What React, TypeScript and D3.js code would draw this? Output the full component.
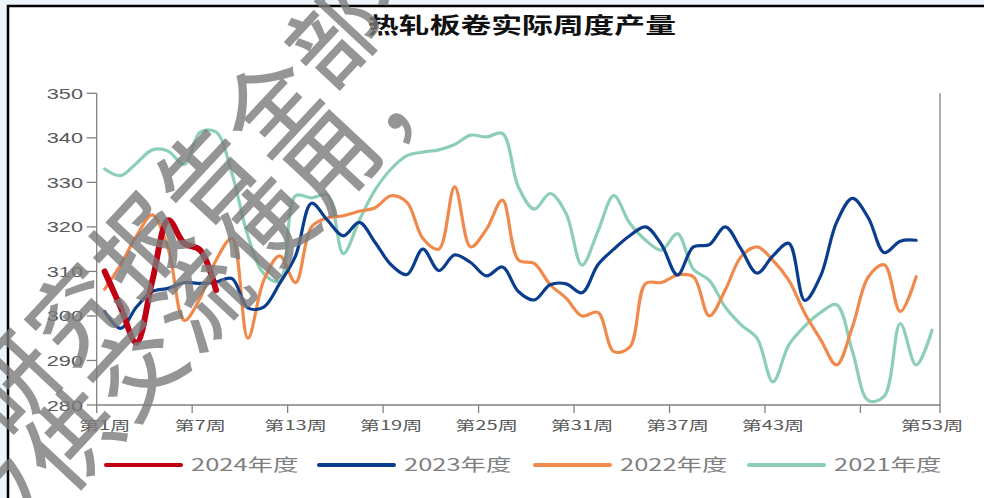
import React from 'react';
import * as d3 from 'd3';

// Weekly hot-rolled coil output (10k tonnes), by year
const weeks = d3.range(1, 54);
const output2024 = [310, 302, 294, 308, 321.5, 316.3, 314.8, 305.8];
const output2023 = [
  301, 297.2, 302, 305.5, 306.2, 307.5, 307.3, 307.6, 308.4, 301.8,
  302, 307.3, 313.5, 325.3, 321.5, 318, 321, 316.5, 311.5, 309.3,
  315, 310.2, 313.7, 312, 309, 311, 305.5, 303.6, 307, 307.2,
  305.2, 311.5, 315, 318, 320, 316, 309.2, 315.5, 316, 320,
  315, 309.6, 313.5, 316.3, 303.5, 309, 321, 326.4, 322, 314.2,
  316.8, 317,
];
const output2022 = [
  306, 311.5, 318, 322.7, 315, 299, 304, 312.5, 317.4, 295,
  308, 313.5, 307.5, 320, 322, 322.5, 323.5, 324.3, 327, 325.5,
  317.4, 315, 329, 315.5, 319.5, 326, 312.6, 311.8, 307, 304,
  300, 300.8, 292, 293, 307.3, 307.5, 309.2, 308.8, 300, 305.8,
  313.3, 315.5, 312.5, 308, 300.6, 294.7, 289, 297.6, 308.8, 311.5,
  301, 308.8,
];
const output2021 = [
  333, 331.5, 334.3, 337.3, 337, 334, 341.3, 341.3, 332, 318,
  309.5, 307.8, 327, 326.5, 327.2, 314, 321.5, 328.3, 333, 336,
  336.8, 337.3, 338.5, 340.6, 340.2, 341, 329, 324, 327.5, 323,
  311.4, 319, 327, 320.8, 317, 314.8, 318.5, 310.5, 308, 302,
  298, 295, 285.2, 293.5, 297.7, 300.8, 302.5, 292, 281, 282,
  298.3, 289, 296.8,
];

const seriesNames = ['2024年度', '2023年度', '2022年度', '2021年度'];
const seriesColors = ['#c00012', '#0b3d8e', '#f08a4c', '#8dcfb6'];
const seriesWidths = [6, 3.2, 3.2, 3.2];
const seriesValues = [output2024, output2023, output2022, output2021];

const yTicks = [280, 290, 300, 310, 320, 330, 340, 350];
const xLabelWeeks = [1, 7, 13, 19, 25, 31, 37, 43, 53];
const xTickBounds = [0.5, 6.5, 12.5, 18.5, 24.5, 30.5, 36.5, 42.5, 48.5, 53.5];

const title = '热轧板卷实际周度产量';
const watermarkRows = ['研究报告全部不', '仅供交流使用，'];

const W = 984;
const H = 498;
const plot = { left: 96.7, right: 940, top: 93.3, bottom: 405 };

const x = d3.scaleLinear().domain([0.5, 53.5]).range([plot.left, plot.right]);
const y = d3.scaleLinear().domain([280, 350]).range([plot.bottom, plot.top]);

const lineGen = d3
  .line<number>()
  .x((_, i) => x(weeks[i]))
  .y((d) => y(d))
  .curve(d3.curveCatmullRom.alpha(0.5));

const sans = '"Liberation Sans", Arial, sans-serif';
const cjk = '"Noto Sans CJK SC", "Liberation Sans", sans-serif';

export default function App() {
  const drawOrder = [3, 2, 1, 0];
  const legendX = [106, 319, 535, 749];

  // watermark glyph layout along a diagonal
  const angle = -47;
  const rad = (angle * Math.PI) / 180;
  const step = 95;
  const rowStarts = [
    { x: 6, y: 379 },
    { x: 3, y: 504 },
  ];

  return (
    <svg
      width={W}
      height={H}
      style={{ position: 'absolute', left: 0, top: 0, display: 'block' }}
    >
      <rect x={0} y={0} width={W} height={H} fill="#eef4fb" />
      <rect x={8} y={6} width={W + 20} height={H + 20} fill="#ffffff" stroke="#000" strokeWidth={2.5} />

      {/* title */}
      <text
        transform={`translate(522, 33) scale(1.4, 1)`}
        textAnchor="middle"
        fontFamily={cjk}
        fontWeight={700}
        fontSize={22}
        fill="#111"
      >
        {title}
      </text>

      {/* axes */}
      <line x1={plot.left} x2={plot.left} y1={plot.top} y2={plot.bottom} stroke="#808080" strokeWidth={1.3} />
      <line x1={plot.right} x2={plot.right} y1={plot.top} y2={plot.bottom} stroke="#808080" strokeWidth={1.3} />
      <line x1={plot.left} x2={plot.right} y1={plot.bottom} y2={plot.bottom} stroke="#808080" strokeWidth={1.3} />

      {yTicks.map((t) => (
        <g key={t}>
          <line x1={plot.left - 10} x2={plot.left} y1={y(t)} y2={y(t)} stroke="#808080" strokeWidth={1.3} />
          <text
            transform={`translate(83, ${y(t) + 5.5}) scale(1.45, 1)`}
            textAnchor="end"
            fontFamily={sans}
            fontSize={15}
            fill="#595959"
          >
            {t}
          </text>
        </g>
      ))}

      {xTickBounds.map((b) => (
        <line key={b} x1={x(b)} x2={x(b)} y1={plot.bottom} y2={plot.bottom + 8} stroke="#808080" strokeWidth={1.3} />
      ))}
      {xLabelWeeks.map((w) => (
        <text
          key={w}
          transform={`translate(${x(w)}, 430) scale(1.55, 1)`}
          textAnchor="middle"
          fontFamily={cjk}
          fontSize={13}
          fill="#595959"
        >
          {`第${w}周`}
        </text>
      ))}

      {/* series */}
      {drawOrder.map((i) => (
        <path
          key={seriesNames[i]}
          d={lineGen(seriesValues[i]) || ''}
          fill="none"
          stroke={seriesColors[i]}
          strokeWidth={seriesWidths[i]}
          strokeLinecap="round"
          strokeLinejoin="round"
        />
      ))}

      {/* legend */}
      {seriesNames.map((name, i) => (
        <g key={name}>
          <line
            x1={legendX[i]}
            x2={legendX[i] + 75}
            y1={465}
            y2={465}
            stroke={seriesColors[i]}
            strokeWidth={4}
            strokeLinecap="round"
          />
          <text
            transform={`translate(${legendX[i] + 85}, 471) scale(1.5, 1)`}
            fontFamily={cjk}
            fontSize={17}
            fill="#808080"
          >
            {name}
          </text>
        </g>
      ))}

      {/* watermark */}
      {watermarkRows.map((row, r) =>
        Array.from(row).map((ch, k) => {
          const cx = rowStarts[r].x + k * step * Math.cos(rad);
          const cy = rowStarts[r].y + k * step * Math.sin(rad);
          return (
            <text
              key={`${r}-${k}`}
              transform={`translate(${cx}, ${cy}) rotate(${angle})`}
              textAnchor="middle"
              dominantBaseline="central"
              fontFamily={cjk}
              fontWeight={500}
              fontSize={92}
              fill="#7a7a7a"
              fillOpacity={0.8}
            >
              {ch}
            </text>
          );
        })
      )}
    </svg>
  );
}
